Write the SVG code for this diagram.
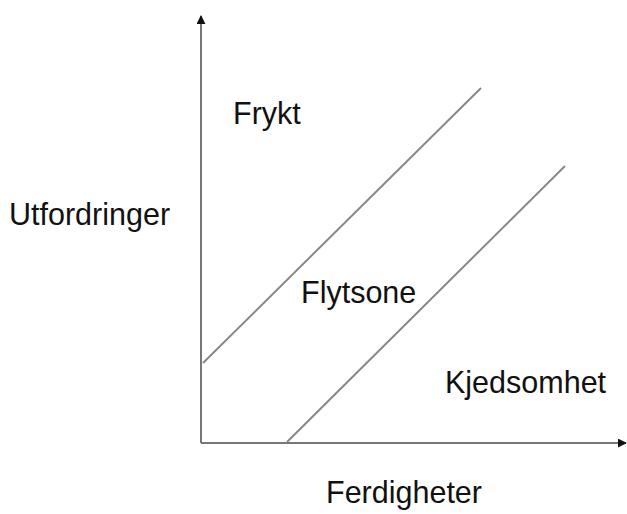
<svg xmlns="http://www.w3.org/2000/svg" width="627" height="514" viewBox="0 0 627 514">
<style>
.ax{stroke:#777;stroke-width:2;fill:none}
.ln{stroke:#888;stroke-width:2;fill:none}
.t{font-family:"Liberation Sans",Arial,sans-serif;font-size:30.5px;fill:#111}
</style>
<defs>
<marker id="ah" viewBox="0 0 10 10" refX="9" refY="5" markerWidth="4.5" markerHeight="4.5" orient="auto" markerUnits="strokeWidth">
<path d="M0,0 L10,5 L0,10 z" fill="#111"/>
</marker>
</defs>
<rect width="627" height="514" fill="#fff"/>
<g id="connectors">
<line class="ax" x1="201" y1="443" x2="201" y2="16" marker-end="url(#ah)"/>
<line class="ax" x1="201" y1="443" x2="626" y2="443" marker-end="url(#ah)"/>
<line class="ln" x1="203" y1="363" x2="481" y2="88"/>
<line class="ln" x1="287" y1="442" x2="565" y2="166"/>
</g>
<g id="label-y"><text class="t" x="9" y="225">Utfordringer</text></g>
<g id="label-x"><text class="t" x="326" y="503">Ferdigheter</text></g>
<g id="frykt"><text class="t" x="233" y="124">Frykt</text></g>
<g id="flytsone"><text class="t" x="301" y="303">Flytsone</text></g>
<g id="kjedsomhet"><text class="t" x="445" y="393">Kjedsomhet</text></g>
</svg>
